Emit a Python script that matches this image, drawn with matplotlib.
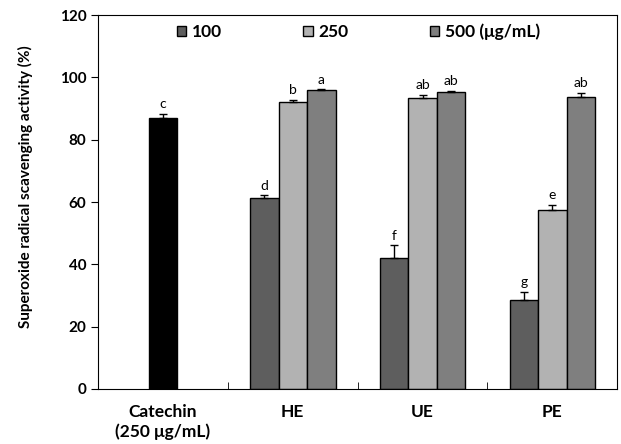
import numpy as np
import matplotlib
matplotlib.use("Agg")
import matplotlib.pyplot as plt

plt.rcParams['font.family'] = ['Lato', 'DejaVu Sans']

# data
groups = ['HE', 'UE', 'PE']
doses = ['100', '250', '500 (μg/mL)']
means = {
    '100': [61.4, 42.0, 28.6],
    '250': [92.0, 93.3, 57.3],
    '500': [96.0, 95.3, 93.6],
}
errs = {
    '100': [0.7, 4.1, 2.5],
    '250': [0.8, 1.2, 1.9],
    '500': [0.2, 0.3, 1.4],
}
letters = {
    '100': ['d', 'f', 'g'],
    '250': ['b', 'ab', 'e'],
    '500': ['a', 'ab', 'ab'],
}
catechin_mean = 87.0
catechin_err = 1.4
catechin_letter = 'c'
xlabels = ['Catechin\n(250 μg/mL)', 'HE', 'UE', 'PE']

colors = ['#5e5e5e', '#b2b2b2', '#7f7f7f']
w = 0.22
ekw = dict(elinewidth=1, capthick=1, ecolor='black')

fig = plt.figure(figsize=(6.21, 4.44), dpi=100)
ax = fig.add_axes([0.158, 0.124, 0.836, 0.842])

# catechin control (only upper error bar shown)
ax.bar(0, catechin_mean, w, color='black', edgecolor='black', linewidth=1,
       yerr=[[0], [catechin_err]], capsize=3, error_kw=ekw)
ax.text(0, catechin_mean + catechin_err + 1.2, catechin_letter, ha='center', va='bottom', fontsize=10)

xpos = np.arange(1, 4)
for i, key in enumerate(['100', '250', '500']):
    xs = xpos + (i - 1) * w
    ax.bar(xs, means[key], w, color=colors[i], edgecolor='black', linewidth=1,
           label=doses[i], yerr=[np.zeros(3), errs[key]], capsize=3, error_kw=ekw)
    for x, m, e, t in zip(xs, means[key], errs[key], letters[key]):
        ax.text(x, m + e + 1.2, t, ha='center', va='bottom', fontsize=10)

ax.set_xlim(-0.5, 3.5)
ax.set_ylim(0, 120)
ax.set_yticks(np.arange(0, 121, 20))
ax.set_xticks(np.arange(4))
ax.set_xticklabels(xlabels, fontweight='bold', fontsize=12.5, linespacing=1.25)
ax.tick_params(axis='x', length=0, pad=11)
ax.set_xticks([0.5, 1.5, 2.5], minor=True)
ax.tick_params(axis='x', which='minor', direction='in', length=5)
ax.tick_params(axis='y', direction='out', length=5, labelsize=11)
for lab in ax.get_yticklabels():
    lab.set_fontweight('bold')
ax.set_ylabel('Superoxide radical scavenging activity (%)', fontweight='bold', fontsize=11)
ax.yaxis.set_label_coords(-0.125, 0.54)

ax.legend(loc='upper left', ncol=3, frameon=False, prop={'weight': 'bold', 'size': 12.5},
          handlelength=0.55, handleheight=0.55, handletextpad=0.3, columnspacing=4.7,
          bbox_to_anchor=(0.135, 1.0), borderaxespad=0.1)

fig.savefig('out.png', dpi=100)
